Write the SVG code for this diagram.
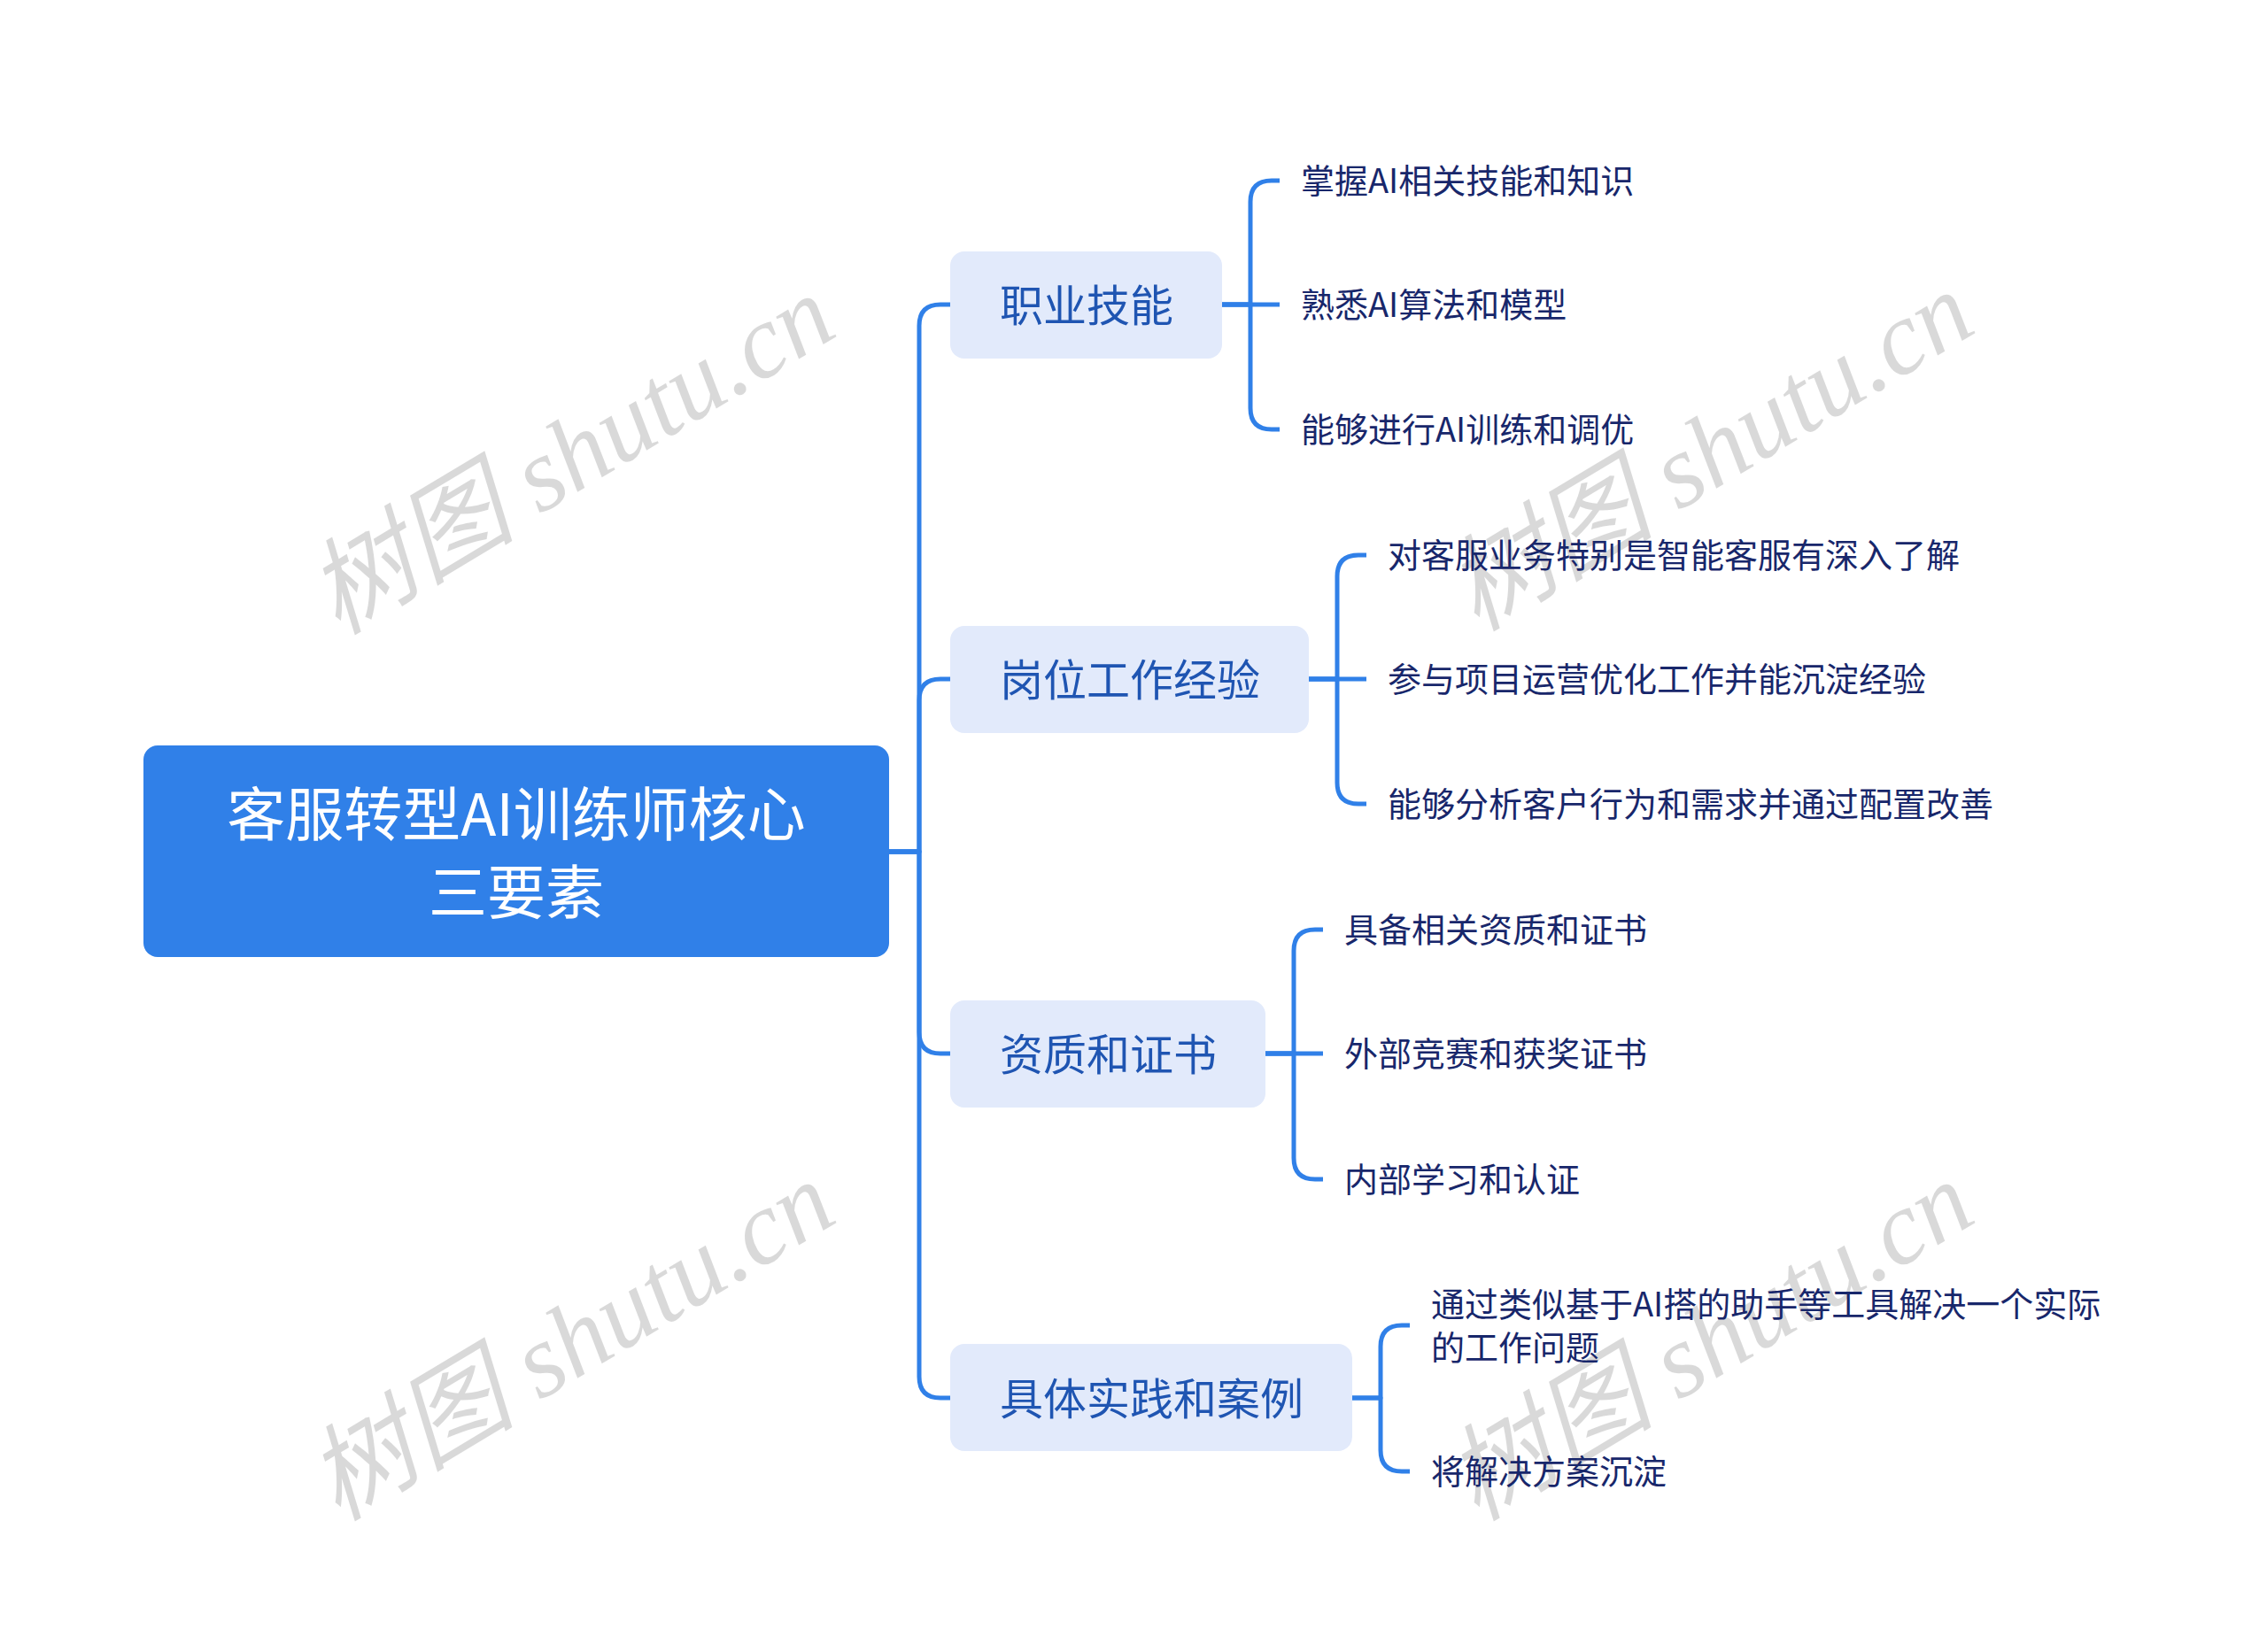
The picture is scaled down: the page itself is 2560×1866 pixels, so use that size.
<svg xmlns="http://www.w3.org/2000/svg" width="2560" height="1866" viewBox="0 0 2560 1866">
<style>
.wm{font-family:"Liberation Serif","Noto Sans CJK SC",serif;font-style:italic;font-size:118px;fill:#000;fill-opacity:0.15}
.conn{fill:none;stroke:#3080E8;stroke-width:5;stroke-linecap:butt;stroke-linejoin:round}
.root{fill:#3080E8}
.rootT{font-family:"Noto Sans CJK SC","Noto Sans",sans-serif;font-size:66px;fill:#FFFFFF;text-anchor:middle;dominant-baseline:central}
.br{fill:#E2EAFB}
.brT{font-family:"Noto Sans CJK SC","Noto Sans",sans-serif;font-size:49px;fill:#1F55B2;dominant-baseline:central}
.lf{font-family:"Noto Sans CJK SC","Noto Sans",sans-serif;font-size:38px;fill:#18276B;dominant-baseline:central}
</style>
<rect width="2560" height="1866" fill="#FFFFFF"/>
<g id="watermarks">
<text class="wm" x="645" y="514" text-anchor="middle" dominant-baseline="central" transform="rotate(-31 645 514)">树图 shutu.cn</text>
<text class="wm" x="645" y="1515" text-anchor="middle" dominant-baseline="central" transform="rotate(-31 645 1515)">树图 shutu.cn</text>
<text class="wm" x="1931" y="510" text-anchor="middle" dominant-baseline="central" transform="rotate(-31 1931 510)">树图 shutu.cn</text>
<text class="wm" x="1931" y="1515" text-anchor="middle" dominant-baseline="central" transform="rotate(-31 1931 1515)">树图 shutu.cn</text>
</g>
<g id="connectors">
<path class="conn" d="M1004 962 H1038 V368 Q1038 344 1062 344 H1073"/>
<path class="conn" d="M1004 962 H1038 V791 Q1038 767 1062 767 H1073"/>
<path class="conn" d="M1004 962 H1038 V1166 Q1038 1190 1062 1190 H1073"/>
<path class="conn" d="M1004 962 H1038 V1555 Q1038 1579 1062 1579 H1073"/>
<path class="conn" d="M1380 344 H1412 V228 Q1412 204 1436 204 H1445"/>
<path class="conn" d="M1380 344 H1445"/>
<path class="conn" d="M1380 344 H1412 V461 Q1412 485 1436 485 H1445"/>
<path class="conn" d="M1478 767 H1510 V651 Q1510 627 1534 627 H1543"/>
<path class="conn" d="M1478 767 H1543"/>
<path class="conn" d="M1478 767 H1510 V884 Q1510 908 1534 908 H1543"/>
<path class="conn" d="M1429 1190 H1461 V1074 Q1461 1050 1485 1050 H1494"/>
<path class="conn" d="M1429 1190 H1494"/>
<path class="conn" d="M1429 1190 H1461 V1308 Q1461 1332 1485 1332 H1494"/>
<path class="conn" d="M1527 1579 H1559 V1521 Q1559 1497 1583 1497 H1592"/>
<path class="conn" d="M1527 1579 H1559 V1638 Q1559 1662 1583 1662 H1592"/>
</g>
<g id="root">
<rect class="root" x="162" y="842" width="842" height="239" rx="16"/>
<text class="rootT" x="583" y="915">客服转型AI训练师核心</text>
<text class="rootT" x="583" y="1003">三要素</text>
</g>
<g id="b1">
<rect class="br" x="1073" y="284" width="307" height="121" rx="16"/>
<text class="brT" x="1129" y="341">职业技能</text>
</g>
<g id="b1l1"><text class="lf" x="1469" y="201">掌握AI相关技能和知识</text></g>
<g id="b1l2"><text class="lf" x="1469" y="341">熟悉AI算法和模型</text></g>
<g id="b1l3"><text class="lf" x="1469" y="482">能够进行AI训练和调优</text></g>
<g id="b2">
<rect class="br" x="1073" y="707" width="405" height="121" rx="16"/>
<text class="brT" x="1129" y="764">岗位工作经验</text>
</g>
<g id="b2l1"><text class="lf" x="1567" y="624">对客服业务特别是智能客服有深入了解</text></g>
<g id="b2l2"><text class="lf" x="1567" y="764">参与项目运营优化工作并能沉淀经验</text></g>
<g id="b2l3"><text class="lf" x="1567" y="905">能够分析客户行为和需求并通过配置改善</text></g>
<g id="b3">
<rect class="br" x="1073" y="1130" width="356" height="121" rx="16"/>
<text class="brT" x="1129" y="1187">资质和证书</text>
</g>
<g id="b3l1"><text class="lf" x="1518" y="1047">具备相关资质和证书</text></g>
<g id="b3l2"><text class="lf" x="1518" y="1187">外部竞赛和获奖证书</text></g>
<g id="b3l3"><text class="lf" x="1518" y="1329">内部学习和认证</text></g>
<g id="b4">
<rect class="br" x="1073" y="1518" width="454" height="121" rx="16"/>
<text class="brT" x="1129" y="1576">具体实践和案例</text>
</g>
<g id="b4l1">
<text class="lf" x="1616" y="1470"><tspan x="1616" y="1470">通过类似基于AI搭的助手等工具解决一个实际</tspan><tspan x="1616" y="1519">的工作问题</tspan></text>
</g>
<g id="b4l2"><text class="lf" x="1616" y="1659">将解决方案沉淀</text></g>
</svg>
